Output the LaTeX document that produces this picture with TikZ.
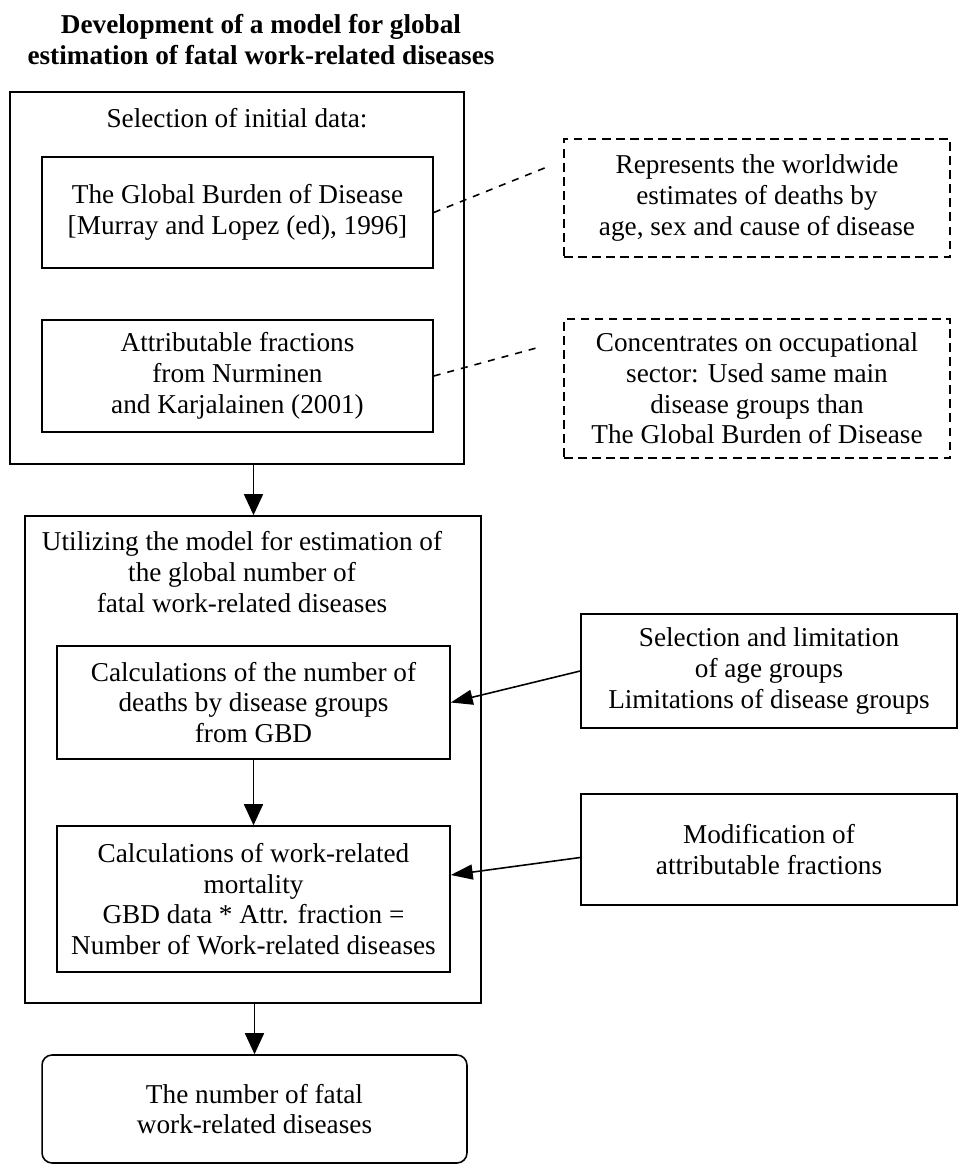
\documentclass[tikz,border=0pt]{standalone}
\usepackage{fontspec}
\setmainfont{Liberation Serif}
\usetikzlibrary{arrows.meta, positioning, calc}

\begin{document}
\begin{tikzpicture}[
  x=0.02cm, y=-0.02cm,
  font=\fontsize{15.5}{17.5}\selectfont,
  box/.style    ={draw, line width=0.9pt, align=center, inner sep=4pt},
  outer/.style  ={box, line width=1pt},
  head/.style   ={align=center},
  src/.style    ={box, minimum width=7.82cm},
  calcbox/.style={box, minimum width=7.86cm},
  note/.style   ={box, dash pattern=on 5pt off 3pt, minimum width=7.72cm},
  input/.style  ={box, minimum width=7.52cm},
  result/.style ={box, rounded corners=0.2cm, minimum width=8.5cm, minimum height=2.16cm},
  title/.style  ={align=center, font=\fontsize{15.5}{17.6}\selectfont\bfseries},
  flow/.style   ={-{Triangle[length=0.42cm, width=0.38cm]}, line width=0.9pt},
  side/.style   ={-{Triangle[length=0.44cm, width=0.3cm]}, line width=0.9pt},
  link/.style   ={dash pattern=on 4pt off 4pt, line width=0.9pt},
]
\useasboundingbox (0,0) rectangle (959,1166);

% ----- Title -----
\node[title] (TITLE) at (261, 40)
  {Development of a model for global\\
   estimation of fatal work-related diseases};

% ----- Block 1: Selection of initial data -----
\node[outer, minimum width=9.08cm, minimum height=7.44cm] (BOX1) at (237, 278) {};
\node[head] (HEAD1) at (237, 118) {Selection of initial data:};
\node[src, minimum height=2.22cm] (GBD) at (237.5, 212.5)
  {The Global Burden of Disease\\
   {[}Murray and Lopez (ed), 1996]};
\node[src, minimum height=2.24cm] (ATTR) at (237.5, 376)
  {Attributable fractions\\
   from Nurminen\\
   and Karjalainen (2001)};

% Notes on the right
\node[note, minimum height=2.36cm] (REP) at (757, 198)
  {Represents the worldwide\\
   estimates of deaths by\\
   age, sex and cause of disease};
\node[note, minimum height=2.78cm] (CONC) at (757, 388.5)
  {Concentrates on occupational\\
   sector: Used same main\\
   disease groups than\\
   The Global Burden of Disease};

\coordinate (repEnd)  at (547, 167);
\coordinate (concEnd) at (540, 347);
\draw[link] (GBD.east)  -- (repEnd);
\draw[link] (ATTR.east) -- (concEnd);

% ----- Block 2: Utilizing the model -----
\node[outer, minimum width=9.12cm, minimum height=9.74cm] (BOX2) at (253, 759.5) {};
\node[head] (HEAD2) at (242, 572)
  {Utilizing the model for estimation of\\
   the global number of\\
   fatal work-related diseases};
\node[calcbox, minimum height=2.26cm] (CALC1) at (253.5, 702.5)
  {Calculations of the number of\\
   deaths by disease groups\\
   from GBD};
\node[calcbox, minimum height=2.92cm] (CALC2) at (253.5, 899)
  {Calculations of work-related\\
   mortality\\
   GBD data * Attr. fraction =\\
   Number of Work-related diseases};

% Inputs on the right
\node[input, minimum height=2.28cm] (SEL) at (769, 671)
  {Selection and limitation\\
   of age groups\\
   Limitations of disease groups};
\node[input, minimum height=2.22cm] (MOD) at (769, 849.5)
  {Modification of\\
   attributable fractions};

% ----- Result -----
\node[result] (RES) at (254.5, 1109)
  {The number of fatal\\
   work-related diseases};

% ----- Arrows -----
\draw[flow] (CALC1.north |- BOX1.south) -- (CALC1.north |- BOX2.north);
\draw[flow] (CALC1.south) -- (CALC2.north);
\draw[flow] (RES.north |- BOX2.south) -- (RES.north);
\draw[side] (SEL.west) -- (CALC1.east);
\draw[side] ([yshift=-0.16cm]MOD.west) -- ([yshift=0.48cm]CALC2.east);

\end{tikzpicture}
\end{document}
